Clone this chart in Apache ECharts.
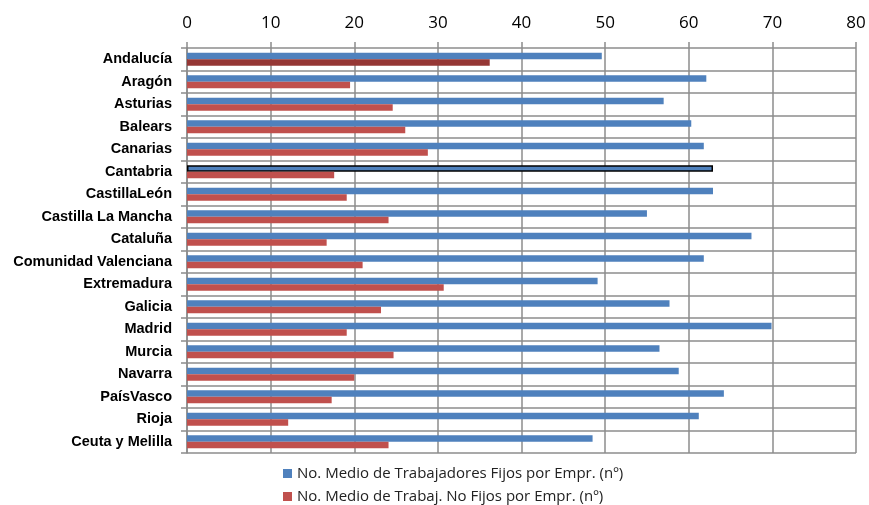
<!DOCTYPE html>
<html>
<head>
<meta charset="utf-8">
<script src="https://cdn.jsdelivr.net/npm/echarts@6/dist/echarts.min.js"></script>
<style>html,body{margin:0;padding:0;background:#fff}#c{width:869px;height:505px}</style>
</head>
<body>
<div id="c"></div>
<script>
const categories = ["Andalucía","Aragón","Asturias","Balears","Canarias","Cantabria","CastillaLeón","Castilla La Mancha","Cataluña","Comunidad Valenciana","Extremadura","Galicia","Madrid","Murcia","Navarra","PaísVasco","Rioja","Ceuta y Melilla"];
const fijos = [49.6,62.1,57.0,60.3,61.8,62.9,62.9,55.0,67.5,61.8,49.1,57.7,69.9,56.5,58.8,64.2,61.2,48.5];
const noFijos = [36.2,19.5,24.6,26.1,28.8,17.6,19.1,24.1,16.7,21.0,30.7,23.2,19.1,24.7,20.0,17.3,12.1,24.1];
const seriesNames = ["No. Medio de Trabajadores Fijos por Empr. (nº)","No. Medio de Trabaj. No Fijos por Empr. (nº)"];
const xTicks = {min:0,max:80,interval:10};

const gridColor = '#8c8c8c';
const blueData = fijos.map((v,i)=> categories[i]==='Cantabria' ? {value:v,itemStyle:{borderColor:'#000',borderWidth:1.5}} : v);
const redData = noFijos.map((v,i)=> categories[i]==='Andalucía' ? {value:v,itemStyle:{color:'#953735'}} : v);

const legendText = {fontFamily:'Open Sans',fontSize:15,color:'#222'};
const chart = echarts.init(document.getElementById('c'));
chart.setOption({
  animation:false,
  grid:{left:187,right:13,top:48,bottom:52},
  legend:[
    {left:278, top:461, itemWidth:9, itemHeight:9, itemGap:6, icon:'rect', textStyle:legendText, data:[seriesNames[0]]},
    {left:278, top:484, itemWidth:9, itemHeight:9, itemGap:6, icon:'rect', textStyle:legendText, data:[seriesNames[1]]}
  ],
  xAxis:{
    type:'value', position:'top', min:xTicks.min, max:xTicks.max, interval:xTicks.interval,
    axisLine:{show:false},
    axisTick:{show:true,length:6,lineStyle:{color:gridColor,width:1.5}},
    axisLabel:{fontFamily:'Open Sans',fontSize:17,color:'#000',margin:16},
    splitLine:{show:true,lineStyle:{color:gridColor,width:1.5}}
  },
  yAxis:{
    type:'category', inverse:true, data:categories,
    axisLine:{show:true,lineStyle:{color:gridColor,width:1.5}},
    axisTick:{show:true,length:6,lineStyle:{color:gridColor,width:1.5}},
    axisLabel:{fontFamily:'Liberation Sans',fontWeight:'bold',fontSize:14.5,color:'#000',margin:15},
    splitLine:{show:true,lineStyle:{color:gridColor,width:1.5}}
  },
  series:[
    {name:seriesNames[0],type:'bar',data:blueData,barWidth:6.5,barGap:'0%',itemStyle:{color:'#4F81BD'}},
    {name:seriesNames[1],type:'bar',data:redData,barWidth:6.5,itemStyle:{color:'#C0504D'}}
  ]
});
</script>
</body>
</html>
